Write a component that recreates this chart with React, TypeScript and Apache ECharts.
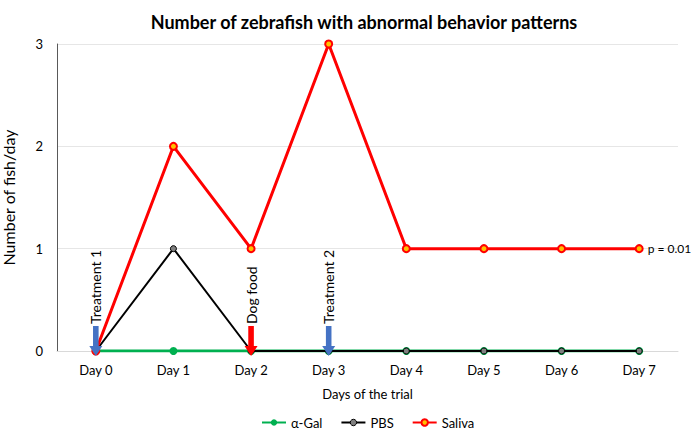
import React, { useEffect, useRef } from "react";
import * as echarts from "echarts";

const categories = ["Day 0", "Day 1", "Day 2", "Day 3", "Day 4", "Day 5", "Day 6", "Day 7"];
const alphaGal = [0, 0, 0, 0, 0, 0, 0, 0];
const pbs = [0, 1, 0, 0, 0, 0, 0, 0];
const saliva = [0, 2, 1, 3, 1, 1, 1, 1];
const yTicks = [0, 1, 2, 3];
const annotations = [
  { day: "Day 0", text: "Treatment 1", color: "#4472C4" },
  { day: "Day 2", text: "Dog food", color: "#FF0000" },
  { day: "Day 3", text: "Treatment 2", color: "#4472C4" },
];
const pLabel = "p = 0.01";

const FONT = "Lato, 'Open Sans', 'Liberation Sans', sans-serif";
const ARROW = "path://M3,0 L9,0 L9,20 L13,20 L6,30 L-1,20 L3,20 Z";

export default function App() {
  const ref = useRef<HTMLDivElement>(null);
  useEffect(() => {
    if (!ref.current) return;
    const chart = echarts.init(ref.current, undefined, { renderer: "svg" });
    chart.setOption({
      animation: false,
      textStyle: { fontFamily: FONT },
      title: {
        text: "Number of zebrafish with abnormal behavior patterns",
        left: 359,
        textAlign: "center",
        top: 8,
        textStyle: { fontSize: 18, fontWeight: "bold", color: "#000", fontFamily: FONT },
      },
      grid: { left: 57, right: 16, top: 44, bottom: 89, outerBoundsMode: "none", containLabel: false },
      legend: {
        bottom: 6,
        left: 256,
        itemWidth: 24,
        itemHeight: 8,
        itemGap: 18,
        textStyle: { fontSize: 13, color: "#000", fontFamily: FONT },
        data: [
          { name: "α-Gal" },
          { name: "PBS", itemStyle: { color: "#7F7F7F", borderColor: "#000", borderWidth: 1 } },
          { name: "Saliva" },
        ],
      },
      xAxis: {
        type: "category",
        data: categories,
        boundaryGap: true,
        name: "Days of the trial",
        nameLocation: "middle",
        nameGap: 36,
        nameTextStyle: { fontSize: 13, color: "#000", fontFamily: FONT },
        axisLine: { lineStyle: { color: "#D9D9D9" } },
        axisTick: { show: false },
        axisLabel: { fontSize: 13, color: "#000", margin: 12, fontFamily: FONT },
      },
      yAxis: {
        type: "value",
        min: yTicks[0],
        max: yTicks[yTicks.length - 1],
        interval: 1,
        name: "Number of fish/day",
        nameLocation: "middle",
        nameGap: 41,
        nameTextStyle: { fontSize: 16, color: "#000", fontFamily: FONT },
        axisLine: { show: true, lineStyle: { color: "#595959", width: 1 } },
        axisTick: { show: false },
        axisLabel: { fontSize: 13, color: "#000", margin: 14, fontFamily: FONT },
        splitLine: { lineStyle: { color: "#E6E6E6" } },
      },
      series: [
        {
          name: "α-Gal",
          type: "line",
          data: alphaGal,
          symbol: "circle",
          symbolSize: 8,
          color: "#00B050",
          lineStyle: { width: 3, color: "#00B050" },
          itemStyle: { color: "#00B050" },
          z: 2,
        },
        {
          name: "PBS",
          type: "line",
          data: pbs,
          symbol: "circle",
          symbolSize: 6,
          color: "#000",
          lineStyle: { width: 2, color: "#000" },
          itemStyle: { color: "#7F7F7F", borderColor: "#000", borderWidth: 1 },
          z: 3,
        },
        {
          name: "Saliva",
          type: "line",
          data: saliva.map((v, i) =>
            i === saliva.length - 1
              ? {
                  value: v,
                  label: {
                    show: true,
                    position: "right",
                    distance: 4,
                    formatter: pLabel,
                    fontSize: 12,
                    color: "#000",
                    fontFamily: FONT,
                  },
                }
              : v
          ),
          symbol: "circle",
          symbolSize: 7,
          color: "#FF0000",
          lineStyle: { width: 3, color: "#FF0000" },
          itemStyle: { color: "#FFC000", borderColor: "#FF0000", borderWidth: 2 },
          z: 4,
          markPoint: {
            z: 10,
            data: annotations.map((a) => ({
              coord: [a.day, 0],
              symbol: ARROW,
              symbolSize: [13, 30],
              symbolOffset: [0, -10],
              symbolKeepAspect: false,
              itemStyle: { color: a.color, borderWidth: 0 },
              label: {
                show: true,
                position: "top",
                rotate: 90,
                align: "left",
                verticalAlign: "middle",
                distance: 2,
                formatter: a.text,
                fontSize: 14,
                color: "#000",
                fontFamily: FONT,
              },
            })),
          },
        },
      ],
    });
    return () => chart.dispose();
  }, []);
  return <div ref={ref} style={{ width: 694, height: 440, position: "absolute", left: 0, top: 0 }} />;
}
